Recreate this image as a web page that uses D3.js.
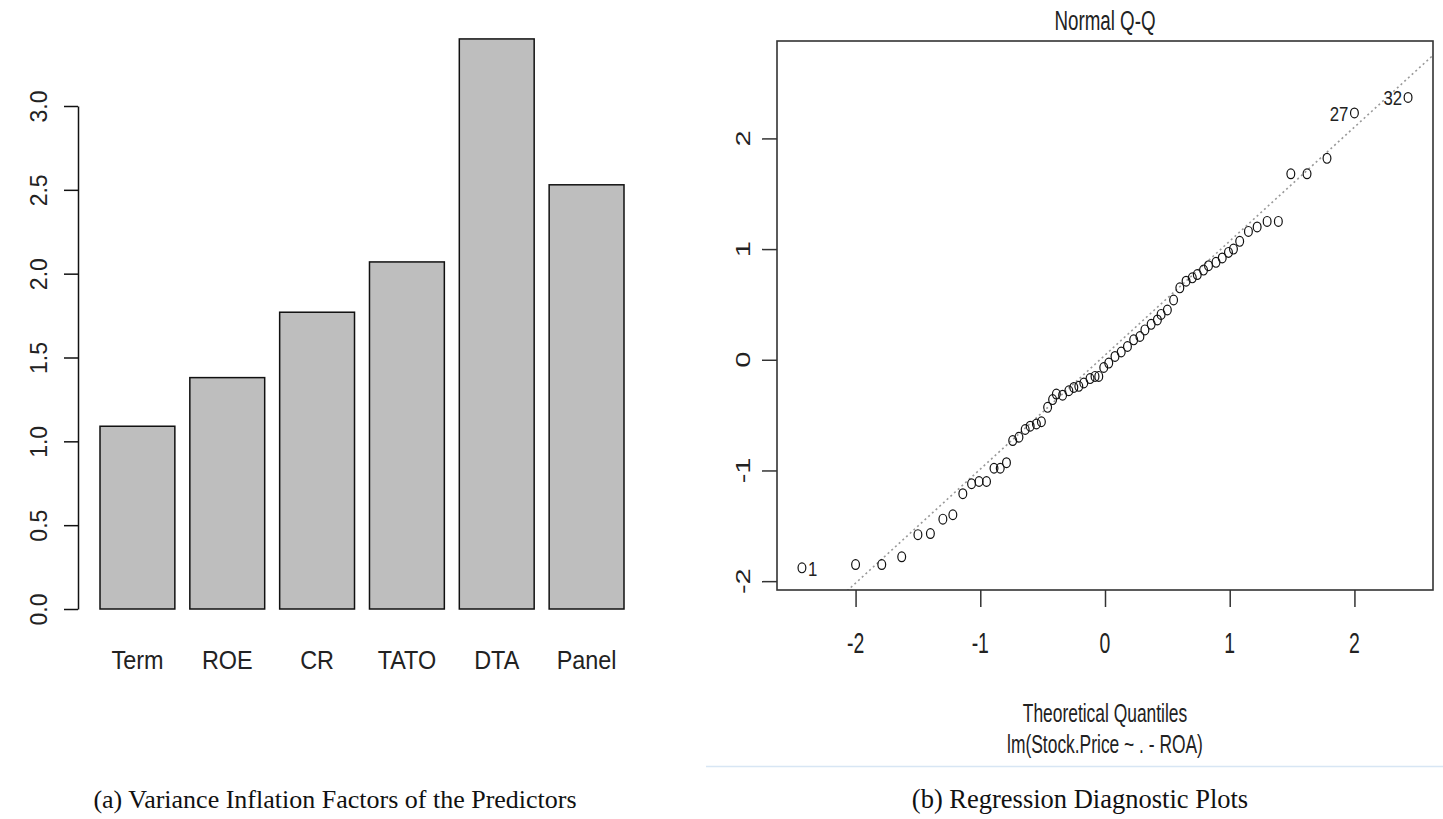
<!DOCTYPE html>
<html>
<head>
<meta charset="utf-8">
<script src="https://cdn.jsdelivr.net/npm/d3@7"></script>
<style>
  body { margin: 0; background: #fff; }
  svg text { font-family: "Liberation Sans", Arial, sans-serif; }
</style>
</head>
<body>
<div id="main"></div>
<script>

// (a) variance inflation factors
const vifNames = ['Term', 'ROE', 'CR', 'TATO', 'DTA', 'Panel'];
const vifValues = [1.09, 1.38, 1.77, 2.07, 3.40, 2.53];
const vifTicks = [0, 0.5, 1, 1.5, 2, 2.5, 3];

// (b) normal Q-Q of the residuals
const qqX = [-2.43, -2.00, -1.79, -1.63, -1.50, -1.40, -1.30, -1.22, -1.14, -1.07,
    -1.01, -0.95, -0.89, -0.84, -0.79, -0.74, -0.69, -0.64, -0.60, -0.55,
    -0.51, -0.46, -0.42, -0.39, -0.34, -0.29, -0.25, -0.21, -0.17, -0.12,
    -0.08, -0.05, -0.01, 0.03, 0.08, 0.13, 0.18, 0.23, 0.28, 0.32,
    0.37, 0.42, 0.45, 0.50, 0.55, 0.60, 0.65, 0.70, 0.74, 0.79,
    0.83, 0.89, 0.94, 0.99, 1.03, 1.08, 1.15, 1.22, 1.30, 1.39,
    1.49, 1.62, 1.78, 2.00, 2.43];
const qqY = [-1.88, -1.85, -1.85, -1.78, -1.58, -1.57, -1.44, -1.40, -1.21, -1.12,
    -1.10, -1.10, -0.98, -0.98, -0.93, -0.73, -0.70, -0.63, -0.60, -0.58,
    -0.56, -0.43, -0.36, -0.31, -0.32, -0.28, -0.25, -0.24, -0.21, -0.17,
    -0.15, -0.15, -0.07, -0.03, 0.03, 0.07, 0.12, 0.18, 0.21, 0.27,
    0.32, 0.36, 0.41, 0.45, 0.54, 0.65, 0.71, 0.74, 0.77, 0.81,
    0.85, 0.88, 0.92, 0.97, 1.00, 1.07, 1.16, 1.20, 1.25, 1.25,
    1.68, 1.68, 1.82, 2.23, 2.37];
const qqIds = [{ i: 0, label: '1' }, { i: 63, label: '27' }, { i: 64, label: '32' }];
const qqTicksX = [-2, -1, 0, 1, 2];
const qqTicksY = [-2, -1, 0, 1, 2];
const qqLine = { intercept: 0.042, slope: 1.03 };

const w = 1443;
const h = 819;

const svg = d3.select('#main').append('svg').attr('width', w).attr('height', h);


// ---------- left: bar chart ----------

const xBar = d3.scaleBand().domain(vifNames).range([100, 624]).paddingInner(0.1667).paddingOuter(0);
const yBar = d3.scaleLinear().domain([0, 3]).range([609, 106]);

const left = svg.append('g');

left.selectAll('rect').data(vifValues).enter().append('rect')
    .attr('x', (d, i) => xBar(vifNames[i]))
    .attr('y', d => yBar(d))
    .attr('width', xBar.bandwidth())
    .attr('height', d => yBar(0) - yBar(d))
    .attr('fill', '#bebebe')
    .attr('stroke', '#111')
    .attr('stroke-width', 1.5);

const yAxisBar = left.append('g').attr('transform', 'translate(78,0)')
    .call(d3.axisLeft(yBar).tickValues(vifTicks).tickSize(14).tickSizeOuter(0).tickFormat(d3.format('.1f')));

yAxisBar.selectAll('path, line').attr('stroke', '#111').attr('stroke-width', 1.5);
yAxisBar.selectAll('text')
    .attr('transform', 'rotate(-90)')
    .attr('x', 0).attr('y', -31).attr('dy', 0)
    .style('text-anchor', 'middle')
    .style('font-size', '23px')
    .attr('fill', '#222');

left.selectAll('.name').data(vifNames).enter().append('text')
    .attr('class', 'name')
    .attr('transform', d => `translate(${xBar(d) + xBar.bandwidth() / 2},669) scale(0.9,1)`)
    .style('text-anchor', 'middle')
    .style('font-size', '26px')
    .attr('fill', '#222')
    .text(d => d);


// ---------- right: normal Q-Q ----------

const xQ = d3.scaleLinear().domain([-2.63, 2.63]).range([777, 1433]);
const yQ = d3.scaleLinear().domain([-2.08, 2.88]).range([590, 41]);
const sx = 0.67;   // the R plot was squeezed sideways

const right = svg.append('g');

right.append('clipPath').attr('id', 'qqclip').append('rect')
    .attr('x', 777).attr('y', 41).attr('width', 656).attr('height', 549);

// reference line
right.append('line')
    .attr('clip-path', 'url(#qqclip)')
    .attr('x1', xQ(-2.63)).attr('y1', yQ(qqLine.intercept + qqLine.slope * -2.63))
    .attr('x2', xQ(2.63)).attr('y2', yQ(qqLine.intercept + qqLine.slope * 2.63))
    .attr('stroke', '#999').attr('stroke-width', 1.6).attr('stroke-dasharray', '2,3');

right.selectAll('ellipse').data(qqX).enter().append('ellipse')
    .attr('cx', d => xQ(d))
    .attr('cy', (d, i) => yQ(qqY[i]))
    .attr('rx', 3.9).attr('ry', 4.9)
    .attr('fill', 'none').attr('stroke', '#111').attr('stroke-width', 1.2);

right.selectAll('.pid').data(qqIds).enter().append('text')
    .attr('class', 'pid')
    .attr('transform', d => {
        const px = xQ(qqX[d.i]) + (d.i === 0 ? 6 : -6);
        return `translate(${px},${yQ(qqY[d.i]) + 8}) scale(0.8,1)`;
    })
    .style('text-anchor', d => d.i === 0 ? 'start' : 'end')
    .style('font-size', '21px')
    .attr('fill', '#222')
    .text(d => d.label);

// frame
right.append('rect')
    .attr('x', 777).attr('y', 41).attr('width', 656).attr('height', 549)
    .attr('fill', 'none').attr('stroke', '#333').attr('stroke-width', 1.6);

// x axis
const xAxisQ = right.append('g').attr('transform', 'translate(0,590)')
    .call(d3.axisBottom(xQ).tickValues(qqTicksX).tickSize(17).tickSizeOuter(0).tickFormat(d3.format('d')));
xAxisQ.select('.domain').remove();
xAxisQ.selectAll('line').attr('stroke', '#333').attr('stroke-width', 1.5);
xAxisQ.selectAll('text').remove();
right.selectAll('.xt').data(qqTicksX).enter().append('text')
    .attr('class', 'xt')
    .attr('transform', d => `translate(${xQ(d)},653) scale(${sx},1)`)
    .style('text-anchor', 'middle').style('font-size', '29px').attr('fill', '#222')
    .text(d => String(d));

// y axis
const yAxisQ = right.append('g').attr('transform', 'translate(777,0)')
    .call(d3.axisLeft(yQ).tickValues(qqTicksY).tickSize(15).tickSizeOuter(0));
yAxisQ.select('.domain').remove();
yAxisQ.selectAll('line').attr('stroke', '#333').attr('stroke-width', 1.5);
yAxisQ.selectAll('text').remove();
right.selectAll('.yt').data(qqTicksY).enter().append('text')
    .attr('class', 'yt')
    .attr('transform', d => `translate(750,${yQ(d)}) scale(${sx},1) rotate(-90)`)
    .style('text-anchor', 'middle').style('font-size', '29px').attr('fill', '#222')
    .text(d => String(d));

// titles
right.append('text')
    .attr('transform', `translate(1105,30) scale(${sx},1)`)
    .style('text-anchor', 'middle').style('font-size', '28px').attr('fill', '#222')
    .text('Normal Q-Q');

right.append('text')
    .attr('transform', `translate(1105,722) scale(${sx},1)`)
    .style('text-anchor', 'middle').style('font-size', '26px').attr('fill', '#222')
    .text('Theoretical Quantiles');

right.append('text')
    .attr('transform', `translate(1105,753) scale(${sx},1)`)
    .style('text-anchor', 'middle').style('font-size', '26px').attr('fill', '#222')
    .text('lm(Stock.Price ~ . - ROA)');

// faint edge of the pasted image
svg.append('line').attr('x1', 706).attr('x2', 1443).attr('y1', 766.5).attr('y2', 766.5)
    .attr('stroke', '#d8e6f4').attr('stroke-width', 1.5);


// ---------- captions ----------

svg.append('text').attr('x', 335).attr('y', 808)
    .style('font-family', '"Liberation Serif", "Times New Roman", serif')
    .style('font-size', '26px').style('text-anchor', 'middle').attr('fill', '#111')
    .text('(a) Variance Inflation Factors of the Predictors');

svg.append('text').attr('x', 1080).attr('y', 808)
    .style('font-family', '"Liberation Serif", "Times New Roman", serif')
    .style('font-size', '26.5px').style('text-anchor', 'middle').attr('fill', '#111')
    .text('(b) Regression Diagnostic Plots');

</script>
</body>
</html>
